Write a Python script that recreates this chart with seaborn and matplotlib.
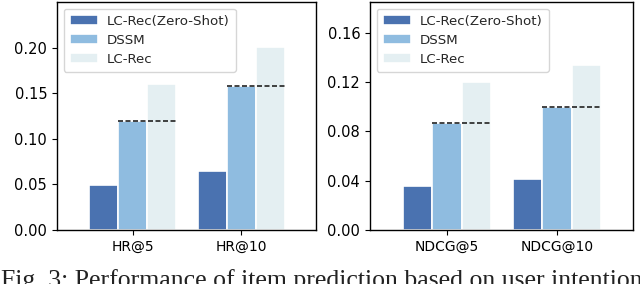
import pandas as pd
import matplotlib
matplotlib.use("Agg")
import matplotlib.pyplot as plt
import seaborn as sns

sns.set_theme(style="ticks", rc={"axes.edgecolor": "black", "xtick.color": "black",
                                 "ytick.color": "black", "axes.linewidth": 1.0})
plt.rcParams['font.family'] = ['DejaVu Sans']

# data
methods = ['LC-Rec(Zero-Shot)', 'DSSM', 'LC-Rec']
hr_metrics = ['HR@5', 'HR@10']
hr_zero = [0.049, 0.065]
hr_dssm = [0.119, 0.158]
hr_lcrec = [0.160, 0.201]
ndcg_metrics = ['NDCG@5', 'NDCG@10']
ndcg_zero = [0.036, 0.041]
ndcg_dssm = [0.087, 0.0995]
ndcg_lcrec = [0.120, 0.134]
hr_yticks = [0.00, 0.05, 0.10, 0.15, 0.20]
ndcg_yticks = [0.00, 0.04, 0.08, 0.12, 0.16]
palette = ['#4a72b0', '#8fbce0', '#e4eff2']
caption = 'Fig. 3: Performance of item prediction based on user intention.'


def make_df(metrics, zero, dssm, lcrec):
    rows = []
    for vals, m in zip([zero, dssm, lcrec], methods):
        for k, v in zip(metrics, vals):
            rows.append({'Metric': k, 'Method': m, 'Value': v})
    return pd.DataFrame(rows)


fig = plt.figure(figsize=(6.4, 2.84), dpi=100)
ax1 = fig.add_axes([0.089, 0.190, 0.405, 0.803])
ax2 = fig.add_axes([0.578, 0.190, 0.411, 0.803])

panels = [
    (ax1, make_df(hr_metrics, hr_zero, hr_dssm, hr_lcrec), hr_dssm, hr_yticks, 0.25),
    (ax2, make_df(ndcg_metrics, ndcg_zero, ndcg_dssm, ndcg_lcrec), ndcg_dssm, ndcg_yticks, 0.185),
]

for ax, d, dssm_vals, yt, ytop in panels:
    sns.barplot(data=d, x='Metric', y='Value', hue='Method', hue_order=methods,
                palette=palette, saturation=1, edgecolor='white', linewidth=1.2,
                width=0.8, ax=ax)
    # dashed line at the DSSM level across the DSSM and LC-Rec bars
    dssm_bars = ax.containers[1]
    lc_bars = ax.containers[2]
    for b1, b2, v in zip(dssm_bars, lc_bars, dssm_vals):
        ax.hlines(v, b1.get_x(), b2.get_x() + b2.get_width(), colors='#222222',
                  linestyles=(0, (3, 1.5)), linewidth=1.2, zorder=5)
    ax.set_xlim(-0.70, 1.69)
    ax.set_ylim(0, ytop)
    ax.set_yticks(yt)
    ax.set_yticklabels(['{:.2f}'.format(t) for t in yt])
    ax.set_xlabel('')
    ax.set_ylabel('')
    ax.tick_params(axis='x', labelsize=10, length=3.5, width=0.8)
    ax.tick_params(axis='y', labelsize=10.5, length=3.5, width=0.8)
    ax.legend(loc='upper left', fontsize=9.6, frameon=True, fancybox=True,
              edgecolor='#cccccc', handlelength=2.1, handleheight=0.8,
              handletextpad=0.7, borderpad=0.45, labelspacing=0.45)
    for s in ax.spines.values():
        s.set_visible(True)
        s.set_color('black')

fig.text(0.002, -0.012, caption, family='Liberation Serif', fontsize=18.5,
         ha='left', va='baseline', color='#222222')

fig.savefig('out.png', dpi=100)
plt.close(fig)
